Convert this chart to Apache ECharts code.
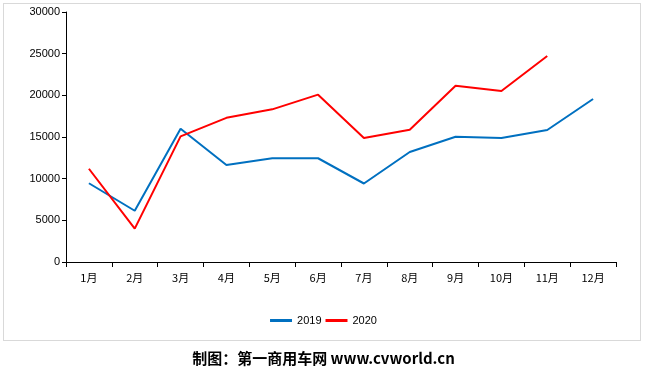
<!DOCTYPE html>
<html><head><meta charset="utf-8">
<script src="https://cdn.jsdelivr.net/npm/echarts@6/dist/echarts.min.js"></script>
<style>
html,body{margin:0;padding:0;background:#fff;}
#frame{position:absolute;left:3px;top:3px;width:638px;height:338px;border:1px solid #d9d9d9;box-sizing:border-box;}
#c{position:absolute;left:0;top:0;width:647px;height:373px;}
</style></head>
<body>
<div id="frame"></div>
<div id="c"></div>
<script>
const categories = ['1月','2月','3月','4月','5月','6月','7月','8月','9月','10月','11月','12月'];
const s2019 = [9450, 6150, 16000, 11650, 12450, 12450, 9420, 13200, 15030, 14880, 15840, 19560];
const s2020 = [11190, 4010, 15070, 17300, 18320, 20080, 14880, 15880, 21160, 20520, 24720, null];
const yTicks = [0, 5000, 10000, 15000, 20000, 25000, 30000];

const chart = echarts.init(document.getElementById('c'));
const font = '"Liberation Sans", Arial, "Noto Sans CJK SC", sans-serif';
chart.setOption({
  animation: false,
  backgroundColor: 'transparent',
  grid: {left: 66, right: 31, top: 12, bottom: 111, containLabel: false},
  legend: {
    bottom: 42, left: 'center',
    itemWidth: 22, itemHeight: 3, itemGap: 4,
    icon: 'rect',
    textStyle: {fontFamily: font, fontSize: 11, color: '#000'},
    data: ['2019', '2020']
  },
  xAxis: {
    type: 'category', data: categories, boundaryGap: true,
    axisLine: {lineStyle: {color: '#000', width: 1}},
    axisTick: {show: true, length: 5, inside: false, lineStyle: {color: '#000'}},
    axisLabel: {color: '#000', fontSize: 11, margin: 10, fontFamily: '"Noto Sans CJK SC", sans-serif'}
  },
  yAxis: {
    type: 'value', min: yTicks[0], max: yTicks[yTicks.length-1], interval: 5000,
    axisLine: {show: true, lineStyle: {color: '#000', width: 1}},
    axisTick: {show: true, length: 4, lineStyle: {color: '#000'}},
    splitLine: {show: false},
    axisLabel: {color: '#000', fontSize: 11, margin: 6, fontFamily: font,
      formatter: function (v) { return String(v); }}
  },
  series: [
    {name: '2019', type: 'line', data: s2019, symbol: 'none', color: '#0070C0',
     lineStyle: {color: '#0070C0', width: 2}},
    {name: '2020', type: 'line', data: s2020, symbol: 'none', color: '#FF0000',
     lineStyle: {color: '#FF0000', width: 2}}
  ],
  graphic: [{
    type: 'text', left: 'center', top: 351,
    style: {text: '制图：第一商用车网 www.cvworld.cn', fill: '#000',
      font: 'bold 15px "Noto Sans CJK SC", sans-serif'}
  }]
});
</script>
</body></html>
